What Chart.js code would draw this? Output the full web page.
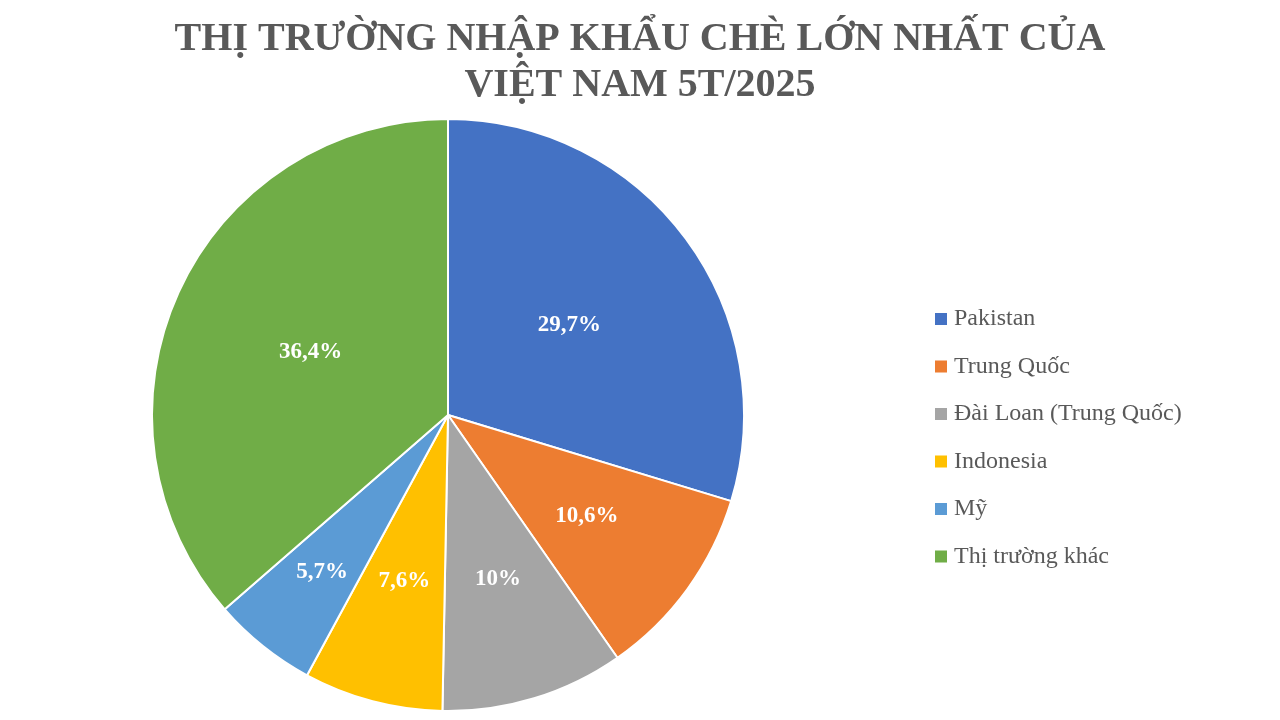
<!DOCTYPE html>
<html><head><meta charset="utf-8">
<script src="https://cdn.jsdelivr.net/npm/chart.js@4/dist/chart.umd.min.js"></script>
<style>html,body{margin:0;padding:0;background:#fff;}#w{width:1280px;height:720px;}</style>
</head><body><div id="w"><canvas id="c" width="1280" height="720"></canvas></div>
<script>
const categories = ["Pakistan","Trung Quốc","Đài Loan (Trung Quốc)","Indonesia","Mỹ","Thị trường khác"];
const shares = [29.7,10.6,10,7.6,5.7,36.4];
const valueLabels = ["29,7%","10,6%","10%","7,6%","5,7%","36,4%"];
const colors = ["#4472C4","#ED7D31","#A5A5A5","#FFC000","#5B9BD5","#70AD47"];
const titleLines = ["THỊ TRƯỜNG NHẬP KHẨU CHÈ LỚN NHẤT CỦA","VIỆT NAM 5T/2025"];

const deco = {
  id:'deco',
  afterDraw(chart){
    const ctx = chart.ctx;
    ctx.save();
    ctx.fillStyle = '#595959';
    ctx.font = 'bold 40px "Liberation Serif"';
    ctx.textAlign = 'center'; ctx.textBaseline = 'middle';
    ctx.fillText(titleLines[0], 640, 40);
    ctx.fillText(titleLines[1], 640, 86);
    const meta = chart.getDatasetMeta(0);
    ctx.font = 'bold 23px "Liberation Serif"';
    ctx.fillStyle = '#fff';
    meta.data.forEach((arc,i)=>{
      const a = (arc.startAngle+arc.endAngle)/2;
      const f = shares[i] < 7 ? 0.68 : (shares[i] > 25 ? 0.51 : 0.58);
      const r = arc.outerRadius*f;
      ctx.fillText(valueLabels[i], arc.x+Math.cos(a)*r, arc.y+Math.sin(a)*r);
    });
    ctx.font = '24px "Liberation Serif"';
    ctx.textAlign = 'left';
    categories.forEach((c,i)=>{
      const y = 319 + i*47.5;
      ctx.fillStyle = colors[i];
      ctx.fillRect(935, y-6, 12, 12);
      ctx.fillStyle = '#595959';
      ctx.fillText(c, 954, y);
    });
    ctx.restore();
  }
};

new Chart(document.getElementById('c'), {
  type:'pie',
  data:{labels:categories, datasets:[{data:shares, backgroundColor:colors, borderColor:'#fff', borderWidth:2}]},
  options:{
    responsive:false, animation:false,
    layout:{padding:{left:151,right:535,top:118,bottom:8}},
    plugins:{legend:{display:false},tooltip:{enabled:false}}
  },
  plugins:[deco]
});
</script></body></html>
